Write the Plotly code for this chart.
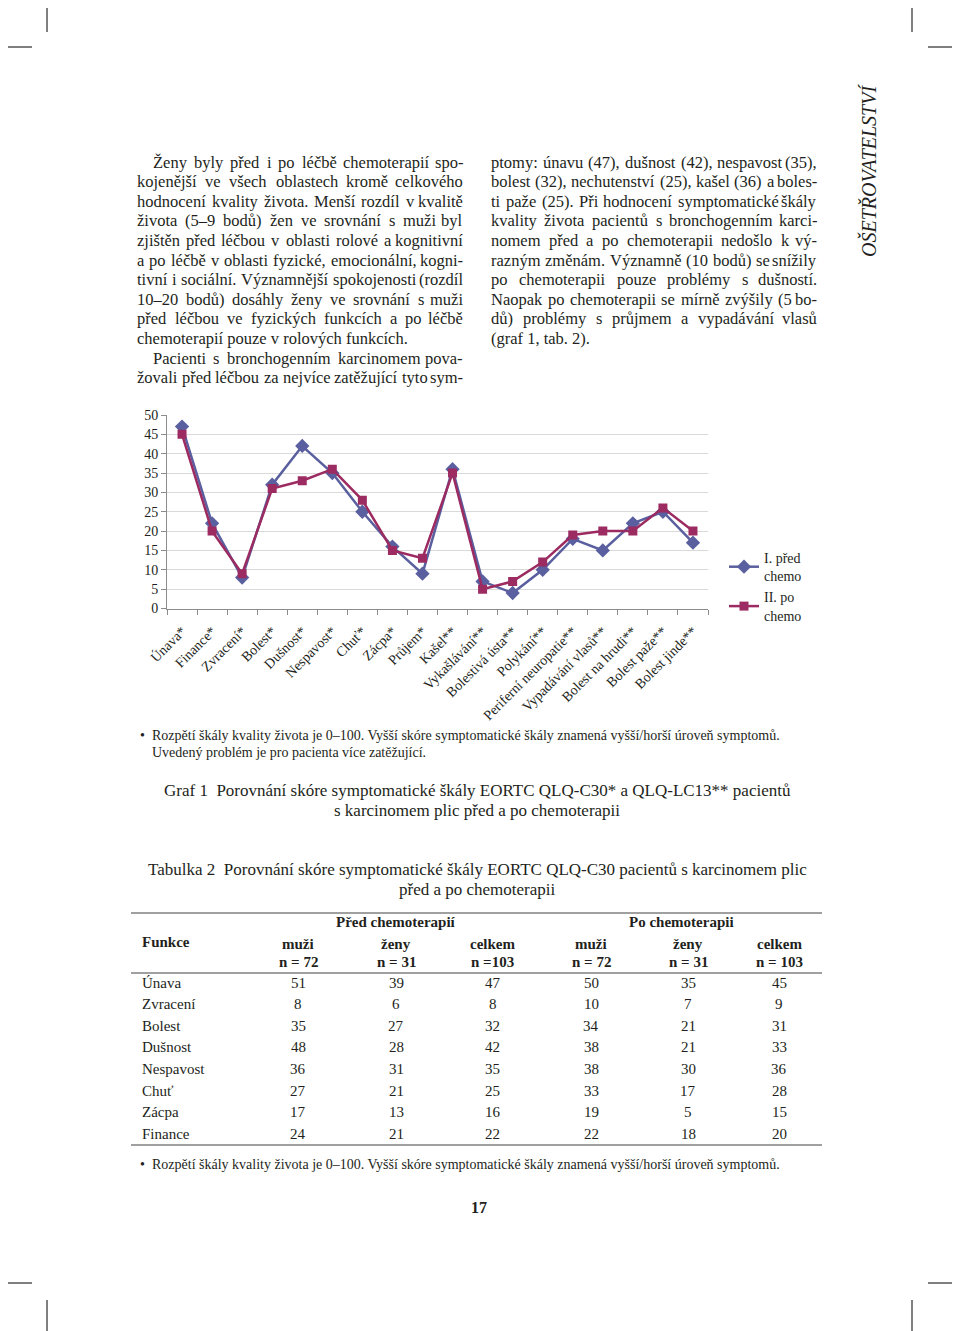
import unicodedata
import plotly.graph_objects as go

# ---------------- data ----------------
categories = ["Únava*", "Finance*", "Zvracení*", "Bolest*", "Dušnost*", "Nespavost*",
              "Chuť*", "Zácpa*", "Průjem*", "Kašel**", "Vykašlávání**", "Bolestivá ústa**",
              "Polykání**", "Periferní neuropatie**", "Vypadávání vlasů**",
              "Bolest na hrudi**", "Bolest paže**", "Bolest jinde**"]
before = [47, 22, 8, 32, 42, 35, 25, 16, 9, 36, 7, 4, 10, 18, 15, 22, 25, 17]
after = [45, 20, 9, 31, 33, 36, 28, 15, 13, 35, 5, 7, 12, 19, 20, 20, 26, 20]
series_names = ["I. před<br>chemo", "II. po<br>chemo"]
y_ticks = list(range(0, 51, 5))

table_rows = ["Únava", "Zvracení", "Bolest", "Dušnost", "Nespavost", "Chuť", "Zácpa", "Finance"]
men_before = [51, 8, 35, 48, 36, 27, 17, 24]
women_before = [39, 6, 27, 28, 31, 21, 13, 21]
total_before = [47, 8, 32, 42, 35, 25, 16, 22]
men_after = [50, 10, 34, 38, 38, 33, 19, 22]
women_after = [35, 7, 21, 21, 30, 17, 5, 18]
total_after = [45, 9, 31, 33, 36, 28, 15, 20]
col_heads = ["muži", "ženy", "celkem", "muži", "ženy", "celkem"]
col_ns = ["n = 72", "n = 31", "n =103", "n = 72", "n = 31", "n = 103"]

left_par1 = ["Ženy byly před i po léčbě chemoterapií spo-",
             "kojenější ve všech oblastech kromě celkového",
             "hodnocení kvality života. Menší rozdíl v kvalitě",
             "života (5–9 bodů) žen ve srovnání s muži byl",
             "zjištěn před léčbou v oblasti rolové a kognitivní",
             "a po léčbě v oblasti fyzické, emocionální, kogni-",
             "tivní i sociální. Významnější spokojenosti (rozdíl",
             "10–20 bodů) dosáhly ženy ve srovnání s muži",
             "před léčbou ve fyzických funkcích a po léčbě",
             "chemoterapií pouze v rolových funkcích."]
left_par2 = ["Pacienti s bronchogenním karcinomem pova-",
             "žovali před léčbou za nejvíce zatěžující tyto sym-"]
right_par = ["ptomy: únavu (47), dušnost (42), nespavost (35),",
             "bolest (32), nechutenství (25), kašel (36) a boles-",
             "ti paže (25). Při hodnocení symptomatické škály",
             "kvality života pacientů s bronchogenním karci-",
             "nomem před a po chemoterapii nedošlo k vý-",
             "razným změnám. Významně (10 bodů) se snížily",
             "po chemoterapii pouze problémy s dušností.",
             "Naopak po chemoterapii se mírně zvýšily (5 bo-",
             "dů) problémy s průjmem a vypadávání vlasů",
             "(graf 1, tab. 2)."]

# ---------------- helpers ----------------
OFF = 8  # default body margin of the page
W_FIG, H_FIG = 960 - OFF, 1331 - OFF
FONT = "Liberation Serif"
TEXT = "#231f20"
BLUE = "#5a5f9f"
RED = "#9c2b62"


def px(x):
    return (x - OFF) / W_FIG


def py(y):
    return 1 - (y - OFF) / H_FIG


TIMES = {' ': 250, 'a': 444, 'b': 500, 'c': 444, 'd': 500, 'e': 444, 'f': 333, 'g': 500,
         'h': 500, 'i': 278, 'j': 278, 'k': 500, 'l': 278, 'm': 778, 'n': 500, 'o': 500,
         'p': 500, 'q': 500, 'r': 333, 's': 389, 't': 278, 'u': 500, 'v': 500, 'w': 722,
         'x': 500, 'y': 500, 'z': 444, 'A': 722, 'B': 667, 'C': 667, 'D': 722, 'E': 611,
         'F': 556, 'G': 722, 'H': 722, 'I': 333, 'J': 389, 'K': 722, 'L': 611, 'M': 889,
         'N': 722, 'O': 722, 'P': 556, 'Q': 722, 'R': 667, 'S': 556, 'T': 611, 'U': 722,
         'V': 722, 'W': 944, 'X': 722, 'Y': 722, 'Z': 611, '(': 333, ')': 333, ',': 250,
         '.': 250, '-': 333, '–': 500, ':': 278, '/': 278, '*': 500}


def text_w(s, fs):
    tot = 0
    for ch in s:
        base = unicodedata.normalize('NFD', ch)[0]
        tot += TIMES.get(base, 500)
    return tot / 1000 * fs


annotations = []


def txt(s, x, y, size=16.5, anchor="left", bold=False, italic=False, angle=0, color=TEXT):
    if bold:
        s = "<b>" + s + "</b>"
    if italic:
        s = "<i>" + s + "</i>"
    annotations.append(dict(text=s, x=px(x), y=py(y), xref="paper", yref="paper",
                            xanchor=anchor, yanchor="middle", showarrow=False,
                            textangle=angle, borderpad=0,
                            font=dict(family=FONT, size=size, color=color)))


def justified(lines, x0, x1, y0, lh, fs, indent=0, last_left=True):
    for i, line in enumerate(lines):
        y = y0 + i * lh
        xs = x0 + (indent if i == 0 else 0)
        last = (i == len(lines) - 1) and last_left
        words = line.split(" ")
        if last or len(words) == 1:
            txt(line, xs, y, fs)
            continue
        widths = [text_w(w, fs) for w in words]
        gap = (x1 - xs - sum(widths)) / (len(words) - 1)
        x = xs
        for j, (w, wd) in enumerate(zip(words, widths)):
            if j == len(words) - 1:
                txt(w, x1, y, fs, anchor="right")
            else:
                txt(w, x, y, fs)
            x += wd + gap


# ---------------- body text ----------------
LH = 19.6
BODY = 16.5
justified(left_par1, 136, 464, 162, LH, BODY, indent=16)
justified(left_par2, 136, 464, 162 + 10 * LH, LH, BODY, indent=16, last_left=False)
justified(right_par, 490, 818, 162, LH, BODY)

txt("OŠETŘOVATELSTVÍ", 868, 171, size=20, anchor="center", italic=True, angle=-90)

# ---------------- chart ----------------
fig = go.Figure()
fig.add_trace(go.Scatter(x=categories, y=before, name=series_names[0], mode="lines+markers",
                         line=dict(color=BLUE, width=2.5),
                         marker=dict(symbol="diamond", size=11, color=BLUE)))
fig.add_trace(go.Scatter(x=categories, y=after, name=series_names[1], mode="lines+markers",
                         line=dict(color=RED, width=2.5),
                         marker=dict(symbol="square", size=9, color=RED)))

# captions
txt("•", 139, 735, size=14)
txt("Rozpětí škály kvality života je 0–100. Vyšší skóre symptomatické škály znamená vyšší/horší úroveň symptomů.",
    151, 735, size=14)
txt("Uvedený problém je pro pacienta více zatěžující.", 151, 752, size=14)
txt("Graf 1  Porovnání skóre symptomatické škály EORTC QLQ-C30* a QLQ-LC13** pacientů",
    477, 790, size=17, anchor="center")
txt("s karcinomem plic před a po chemoterapii", 477, 810, size=17, anchor="center")
txt("Tabulka 2  Porovnání skóre symptomatické škály EORTC QLQ-C30 pacientů s karcinomem plic",
    477, 869, size=17, anchor="center")
txt("před a po chemoterapii", 477, 889, size=17, anchor="center")

# ---------------- table ----------------
col_x = [298, 396, 493, 591, 688, 779]
TF = 15
txt("Před chemoterapií", 396, 922, size=TF, anchor="center", bold=True)
txt("Po chemoterapii", 681, 922, size=TF, anchor="center", bold=True)
txt("Funkce", 141, 942, size=TF, bold=True)
for cx, h, n in zip(col_x, col_heads, col_ns):
    txt(h, cx, 944, size=TF, anchor="center", bold=True)
    txt(n, cx, 962, size=TF, anchor="center", bold=True)
row_y = [983, 1004, 1026, 1047, 1069, 1091, 1112, 1134]
cols = [men_before, women_before, total_before, men_after, women_after, total_after]
for i, (name, ry) in enumerate(zip(table_rows, row_y)):
    txt(name, 141, ry, size=TF)
    for cx, col in zip(col_x, cols):
        txt(str(col[i]), cx, ry, size=TF, anchor="center")

txt("•", 139, 1164, size=14)
txt("Rozpětí škály kvality života je 0–100. Vyšší skóre symptomatické škály znamená vyšší/horší úroveň symptomů.",
    151, 1164, size=14)
txt("17", 479, 1207, size=16, anchor="center", bold=True)

# ---------------- shapes ----------------
shapes = []


def hline(y, x0, x1, w=1, color="#000"):
    shapes.append(dict(type="line", xref="paper", yref="paper", x0=px(x0), x1=px(x1),
                       y0=py(y), y1=py(y), line=dict(color=color, width=w)))


def vline(x, y0, y1, w=1, color="#000"):
    shapes.append(dict(type="line", xref="paper", yref="paper", x0=px(x), x1=px(x),
                       y0=py(y0), y1=py(y1), line=dict(color=color, width=w)))


hline(913, 131, 822, 1.6, "#808080")
hline(973, 131, 822, 1.6, "#808080")
hline(1145, 131, 822, 1.6, "#808080")
# crop marks
vline(47, OFF, 32)
vline(912, OFF, 32)
hline(47, OFF, 32)
hline(47, 928, 960)
hline(1283, OFF, 32)
hline(1283, 928, 960)
vline(47, 1300, 1331)
vline(912, 1300, 1331)

fig.update_layout(
    width=W_FIG, height=H_FIG, autosize=False,
    margin=dict(l=0, r=0, t=0, b=0),
    paper_bgcolor="white", plot_bgcolor="white",
    font=dict(family=FONT, color=TEXT),
    showlegend=True,
    legend=dict(x=px(724), y=py(542), xanchor="left", yanchor="top",
                font=dict(family=FONT, size=14, color=TEXT),
                bgcolor="rgba(0,0,0,0)", tracegroupgap=6, itemwidth=30),
    xaxis=dict(domain=[px(167), px(708)], type="category", range=[-0.5, 17.5],
               tickson="boundaries", ticks="outside", ticklen=5, tickcolor="#8c8c8c",
               showline=True, linecolor="#8c8c8c", linewidth=1, showgrid=False,
               tickangle=-45, ticklabelstandoff=8,
               tickfont=dict(family=FONT, size=14, color=TEXT),
               automargin=False, fixedrange=True),
    yaxis=dict(domain=[py(608.5), py(415)], range=[0, 50], tickvals=y_ticks,
               ticks="outside", ticklen=5, tickcolor="#8c8c8c",
               showline=True, linecolor="#8c8c8c", linewidth=1,
               gridcolor="#d9d9d9", gridwidth=1, zeroline=False,
               tickfont=dict(family=FONT, size=14, color=TEXT),
               automargin=False, fixedrange=True),
    annotations=annotations,
    shapes=shapes,
)

fig.write_html("out.html")
